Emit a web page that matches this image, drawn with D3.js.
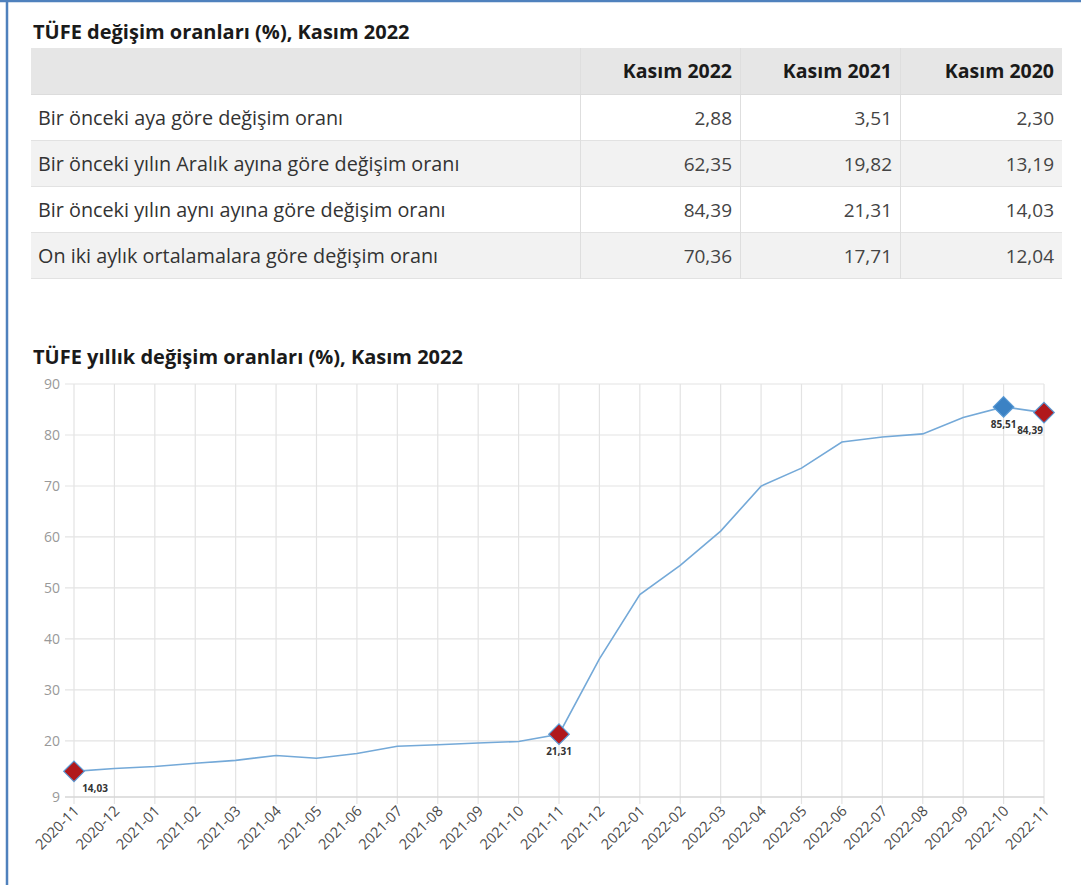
<!DOCTYPE html>
<html>
<head>
<meta charset="utf-8">
<script src="https://cdn.jsdelivr.net/npm/d3@7"></script>
<style>
  body { margin: 0; background: #fff; }
  svg { display: block; font-family: "Open Sans", "Noto Sans", sans-serif; }
</style>
</head>
<body>
<svg id="chart" width="1081" height="885"></svg>
<script>
// tablo verisi
var tableTitle = "TÜFE değişim oranları (%), Kasım 2022";
var columns = ["Kasım 2022", "Kasım 2021", "Kasım 2020"];
var rowLabels = [
  "Bir önceki aya göre değişim oranı",
  "Bir önceki yılın Aralık ayına göre değişim oranı",
  "Bir önceki yılın aynı ayına göre değişim oranı",
  "On iki aylık ortalamalara göre değişim oranı"
];
var rowValues = [
  ["2,88", "3,51", "2,30"],
  ["62,35", "19,82", "13,19"],
  ["84,39", "21,31", "14,03"],
  ["70,36", "17,71", "12,04"]
];

// grafik verisi
var chartTitle = "TÜFE yıllık değişim oranları (%), Kasım 2022";
var months = ["2020-11", "2020-12", "2021-01", "2021-02", "2021-03", "2021-04", "2021-05",
  "2021-06", "2021-07", "2021-08", "2021-09", "2021-10", "2021-11", "2021-12",
  "2022-01", "2022-02", "2022-03", "2022-04", "2022-05", "2022-06", "2022-07",
  "2022-08", "2022-09", "2022-10", "2022-11"];
var yearly = [14.03, 14.60, 14.97, 15.61, 16.19, 17.14, 16.59, 17.53, 18.95, 19.25,
  19.58, 19.89, 21.31, 36.08, 48.69, 54.44, 61.14, 69.97, 73.50, 78.62, 79.60,
  80.21, 83.45, 85.51, 84.39];
var yTicks = [9, 20, 30, 40, 50, 60, 70, 80, 90];
var redMarks = ["2020-11", "2021-11", "2022-11"];
var blueMarks = ["2022-10"];

var svg = d3.select('#chart');

// çerçeve
svg.append('line').attr('x1', 7).attr('x2', 7).attr('y1', 0).attr('y2', 885)
  .attr('stroke', '#4f81bd').attr('stroke-width', 2.5);
svg.append('line').attr('x1', 0).attr('x2', 1081).attr('y1', 1).attr('y2', 1)
  .attr('stroke', '#4f81bd').attr('stroke-width', 2.5);

/* tablo */
svg.append('text').attr('x', 33).attr('y', 39)
  .attr('font-size', 20).attr('font-weight', 'bold').attr('fill', '#1a1a1a')
  .text(tableTitle);

var colEdges = [31, 580, 740, 900, 1062];
var headTop = 48, headH = 47, rowH = 46;

var tbl = svg.append('g');
tbl.append('rect').attr('x', colEdges[0]).attr('y', headTop)
  .attr('width', colEdges[4] - colEdges[0]).attr('height', headH)
  .attr('fill', '#e6e6e6');

columns.forEach(function(c, i) {
  tbl.append('text').attr('x', colEdges[i + 2] - 8).attr('y', headTop + 30)
    .attr('text-anchor', 'end').attr('font-size', 19.5).attr('font-weight', 'bold')
    .attr('fill', '#1a1a1a').text(c);
});

rowLabels.forEach(function(lbl, r) {
  var y0 = headTop + headH + r * rowH;
  tbl.append('rect').attr('x', colEdges[0]).attr('y', y0)
    .attr('width', colEdges[4] - colEdges[0]).attr('height', rowH)
    .attr('fill', r % 2 ? '#f2f2f2' : '#fff');
  tbl.append('line').attr('x1', colEdges[0]).attr('x2', colEdges[4])
    .attr('y1', y0 + rowH - 0.5).attr('y2', y0 + rowH - 0.5)
    .attr('stroke', '#e2e2e2');
  tbl.append('text').attr('x', 38).attr('y', y0 + 30)
    .attr('font-size', 19.8).attr('fill', '#333').text(lbl);
  rowValues[r].forEach(function(v, i) {
    tbl.append('text').attr('x', colEdges[i + 2] - 8).attr('y', y0 + 30)
      .attr('text-anchor', 'end').attr('font-size', 19).attr('fill', '#444').text(v);
  });
});
// dikey ayırıcılar
[1, 2, 3].forEach(function(i) {
  tbl.append('line').attr('x1', colEdges[i] + 0.5).attr('x2', colEdges[i] + 0.5)
    .attr('y1', headTop).attr('y2', headTop + headH + 4 * rowH)
    .attr('stroke', '#dedede');
});
tbl.append('line').attr('x1', colEdges[0]).attr('x2', colEdges[4])
  .attr('y1', headTop + headH - 0.5).attr('y2', headTop + headH - 0.5).attr('stroke', '#dcdcdc');

/* çizgi grafik */
svg.append('text').attr('x', 33).attr('y', 364)
  .attr('font-size', 20).attr('font-weight', 'bold').attr('fill', '#1a1a1a')
  .text(chartTitle);

var x = d3.scalePoint().domain(months).range([74, 1044]);
var y = d3.scaleLinear().domain([9, 90]).range([797, 384]);

var g = svg.append('g');

// ızgara
g.selectAll('.vgrid').data(months).enter().append('line')
  .attr('x1', function(d) { return x(d); }).attr('x2', function(d) { return x(d); })
  .attr('y1', y(90)).attr('y2', y(9) + 7)
  .attr('stroke', '#e3e3e3').attr('stroke-width', 1.2);
g.selectAll('.hgrid').data(yTicks).enter().append('line')
  .attr('x1', 65).attr('x2', 1044)
  .attr('y1', function(d) { return y(d); }).attr('y2', function(d) { return y(d); })
  .attr('stroke', function(d) { return d === 9 ? '#d6d6d6' : '#e3e3e3'; })
  .attr('stroke-width', function(d) { return d === 9 ? 1.6 : 1.2; });

// y etiketleri
g.selectAll('.ylab').data(yTicks).enter().append('text')
  .attr('x', 60).attr('y', function(d) { return y(d); }).attr('dy', '0.35em')
  .attr('text-anchor', 'end').attr('font-size', 14).attr('fill', '#999')
  .text(function(d) { return d; });

// x etiketleri
g.selectAll('.xlab').data(months).enter().append('text')
  .attr('transform', function(d) { return 'translate(' + (x(d) + 6) + ',' + 812 + ') rotate(-45)'; })
  .attr('text-anchor', 'end').attr('font-size', 14.5).attr('fill', '#4a4a4a')
  .text(function(d) { return d; });

// çizgi
var line = d3.line()
  .x(function(d, i) { return x(months[i]); })
  .y(function(d) { return y(d); });
g.append('path').datum(yearly).attr('d', line)
  .attr('fill', 'none').attr('stroke', '#74a9d8').attr('stroke-width', 1.6);

// işaretler
var marks = months.map(function(m, i) { return { m: m, v: yearly[i] }; })
  .filter(function(d) { return redMarks.indexOf(d.m) >= 0 || blueMarks.indexOf(d.m) >= 0; });
var diamond = d3.symbol().type(d3.symbolDiamond2).size(270);

g.selectAll('.mark').data(marks).enter().append('path')
  .attr('d', diamond)
  .attr('transform', function(d) { return 'translate(' + x(d.m) + ',' + y(d.v) + ')'; })
  .attr('fill', function(d) { return blueMarks.indexOf(d.m) >= 0 ? '#3b82c4' : '#b0181c'; })
  .attr('stroke', '#5b9bd5').attr('stroke-width', 1.2);

var labelOffset = { "2020-11": 21, "2021-11": 0, "2022-10": 0, "2022-11": -14 };
g.selectAll('.vlab').data(marks).enter().append('text')
  .attr('x', function(d) { return x(d.m) + labelOffset[d.m]; })
  .attr('y', function(d) { return y(d.v) + 21; })
  .attr('text-anchor', 'middle').attr('font-size', 10).attr('font-weight', 'bold')
  .attr('fill', '#333')
  .text(function(d) { return d3.format('.2f')(d.v).replace('.', ','); });
</script>
</body>
</html>
